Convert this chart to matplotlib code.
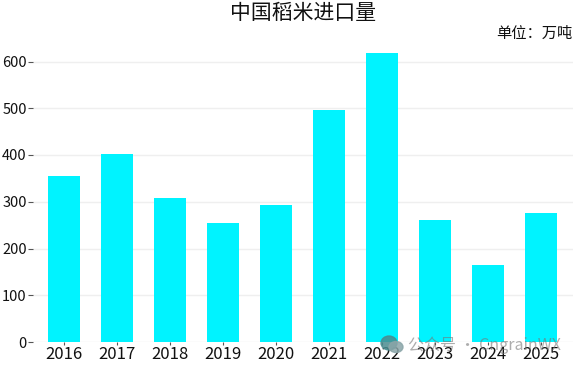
import matplotlib
matplotlib.use('Agg')
import matplotlib.pyplot as plt
from matplotlib.patches import Ellipse

plt.rcParams['font.family'] = ['Noto Sans CJK SC', 'DejaVu Sans']

# values
years = ['2016', '2017', '2018', '2019', '2020', '2021', '2022', '2023', '2024', '2025']
imports = [356, 402, 307, 254, 293, 496, 618, 262, 165, 277]
y_ticks = [0, 100, 200, 300, 400, 500, 600]

W, H = 576, 368
fig = plt.figure(figsize=(W / 100, H / 100), dpi=100)

# axes box in pixels: left 33, right 573, top 40, bottom 342
ax = fig.add_axes([33 / W, 1 - 342 / H, 540 / W, 302 / H])

ax.bar(range(len(years)), imports, width=0.6, color='#00f3ff', zorder=2)

ax.set_xlim(-0.59, 9.6)
ax.set_ylim(0, 302 / 0.4675)
ax.set_xticks(range(len(years)))
ax.set_xticklabels(years)
ax.set_yticks(y_ticks)
ax.grid(axis='y', color='#efefef', linewidth=1, zorder=0)

for s in ax.spines.values():
    s.set_visible(False)
ax.tick_params(axis='x', length=2, width=0.8, color='#555555', labelsize=12, pad=1, labelcolor='#111111')
ax.tick_params(axis='y', length=3.5, width=0.8, color='#555555', labelsize=10.5, pad=1, labelcolor='#111111')

fig.text(303.5 / W, 1 - 13 / H, '中国稻米进口量', fontsize=15, ha='center', va='center', color='#111111')
fig.text(572 / W, 1 - 33 / H, '单位：万吨', fontsize=11, ha='right', va='center', color='#111111')

# watermark
fig.text(408 / W, 1 - 345 / H, '公众号 · CngrainWX', fontsize=11.5, ha='left', va='center',
         color='#777777', alpha=0.6, zorder=5)
fig.add_artist(Ellipse((389 / W, 1 - 343 / H), 16 / W, 14 / H, transform=fig.transFigure,
                       color='#4a8c90', alpha=0.85, zorder=5))
fig.add_artist(Ellipse((396 / W, 1 - 347 / H), 14 / W, 11 / H, transform=fig.transFigure,
                       color='#8aa5a8', alpha=0.85, zorder=5))

fig.savefig('out.png', dpi=100)
